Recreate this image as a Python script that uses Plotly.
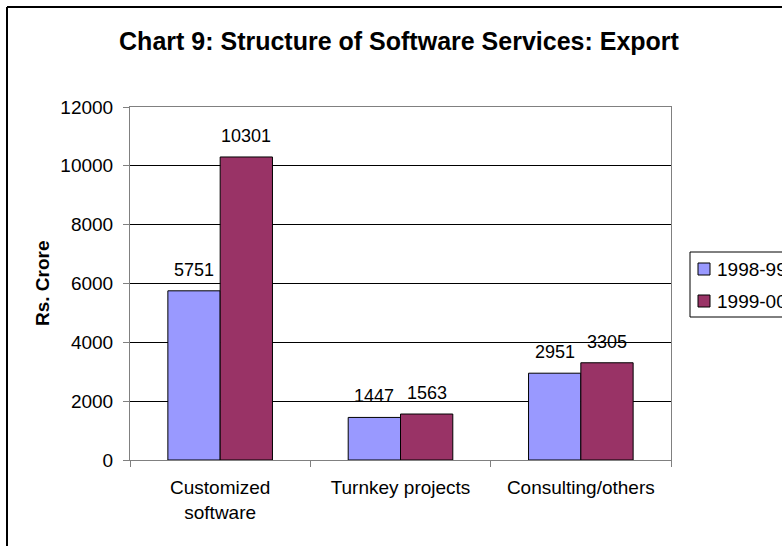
import plotly.graph_objects as go

categories = ["Customized<br>software", "Turnkey projects", "Consulting/others"]
series_names = ["1998-99", "1999-00"]
values_1998_99 = [5751, 1447, 2951]
values_1999_00 = [10301, 1563, 3305]
colors = ["#9999FF", "#993366"]

font_family = "Liberation Sans, Arial, sans-serif"

W, H = 782, 546
ML, MR, MT, MB = 130, 111, 107, 86
PW, PH = W - ML - MR, H - MT - MB
BARGAP = 0.42


def px_x(px):
    return (px - ML) / PW


def px_y(py):
    return (H - MB - py) / PH


series = [values_1998_99, values_1999_00]

fig = go.Figure()
for name, vals, col in zip(series_names, series, colors):
    fig.add_trace(go.Bar(
        x=categories, y=vals, name=name,
        marker=dict(color=col, line=dict(color="black", width=1)),
        showlegend=False,
    ))

# value labels above each bar
bar_px = PW / len(categories) * (1 - BARGAP) / len(series)
annotations = []
for k, vals in enumerate(series):
    shift = (k - (len(series) - 1) / 2) * bar_px
    for cat, v in zip(categories, vals):
        annotations.append(dict(
            x=cat, y=v, xref="x", yref="y", text=str(v), showarrow=False,
            xanchor="center", yanchor="bottom", xshift=shift, yshift=9,
            font=dict(size=18, family=font_family, color="black"),
        ))

# axis title
annotations.append(dict(
    x=px_x(42), y=px_y(283), xref="paper", yref="paper", text="<b>Rs. Crore</b>",
    textangle=-90, showarrow=False, xanchor="center", yanchor="middle",
    font=dict(size=19, family=font_family, color="black"),
))

# legend box, swatches and labels
shapes = [
    dict(type="rect", xref="paper", yref="paper",
         x0=px_x(690), x1=px_x(800), y0=px_y(317), y1=px_y(252),
         line=dict(color="black", width=1), fillcolor="white", layer="above"),
]
legend_rows = [269, 301]
for name, col, cy in zip(series_names, colors, legend_rows):
    shapes.append(dict(type="rect", xref="paper", yref="paper",
                       x0=px_x(698), x1=px_x(710), y0=px_y(cy + 6), y1=px_y(cy - 6),
                       line=dict(color="black", width=1), fillcolor=col, layer="above"))
    annotations.append(dict(x=px_x(715), y=px_y(cy), xref="paper", yref="paper",
                            text=name, showarrow=False, xanchor="left", yanchor="middle",
                            font=dict(size=19, family=font_family, color="black")))

# outer chart frame (left and top edges)
shapes.append(dict(type="line", xref="paper", yref="paper",
                   x0=px_x(7), x1=px_x(7), y0=px_y(560), y1=px_y(7),
                   line=dict(color="black", width=2)))
shapes.append(dict(type="line", xref="paper", yref="paper",
                   x0=px_x(7), x1=px_x(800), y0=px_y(7), y1=px_y(7),
                   line=dict(color="black", width=2)))

fig.update_layout(
    width=W, height=H,
    margin=dict(l=ML, r=MR, t=MT, b=MB, autoexpand=False),
    paper_bgcolor="white", plot_bgcolor="white",
    barmode="group", bargap=BARGAP, bargroupgap=0,
    font=dict(family=font_family, size=18, color="black"),
    title=dict(text="<b>Chart 9: Structure of Software Services: Export</b>",
               x=399 / W, xanchor="center",
               y=1 - 41 / H, yanchor="middle",
               font=dict(size=25, family=font_family, color="black")),
    showlegend=False,
    annotations=annotations,
    shapes=shapes,
)

fig.update_xaxes(
    type="category", showgrid=False, tickson="boundaries",
    ticks="outside", ticklen=6, tickcolor="#808080",
    showline=True, linecolor="#808080", linewidth=1, mirror=True,
    tickfont=dict(size=19, family=font_family), ticklabelstandoff=10,
)
fig.update_yaxes(
    range=[0, 12000], dtick=2000, tickformat="d",
    showgrid=True, gridcolor="black", gridwidth=1,
    ticks="outside", ticklen=6, tickcolor="#808080",
    showline=True, linecolor="#808080", linewidth=1, mirror=True,
    zeroline=False,
    tickfont=dict(size=19, family=font_family), ticklabelstandoff=6,
)

fig.write_html("out.html")
